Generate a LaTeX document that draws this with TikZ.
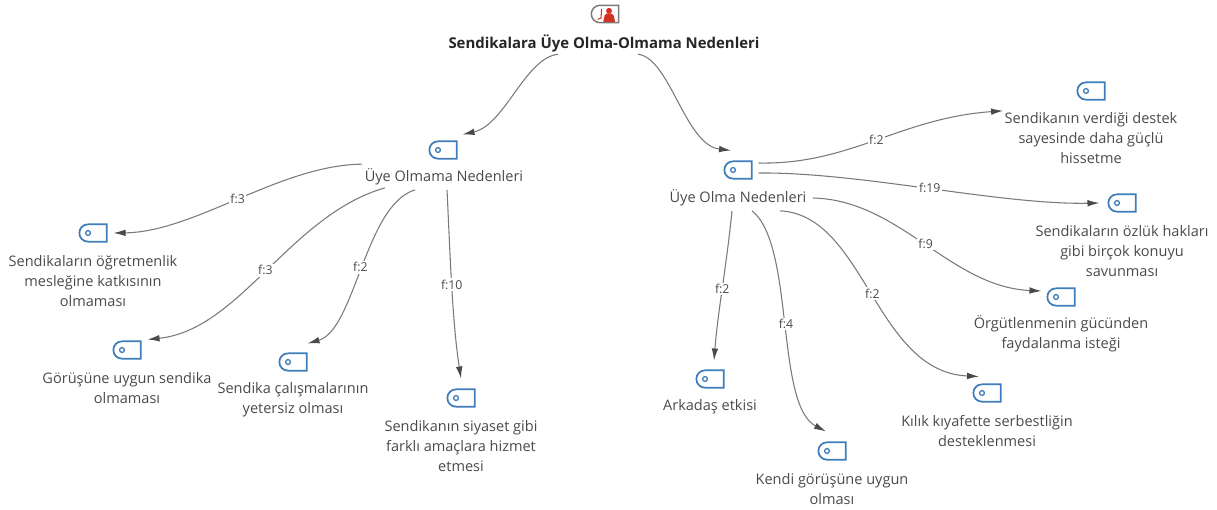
\documentclass[tikz,border=0pt]{standalone}
\usepackage{fontspec}
\setmainfont{Open Sans}
\usetikzlibrary{shapes.misc,arrows.meta}
\definecolor{codeblue}{HTML}{3F7DBA}
\definecolor{inkgray}{HTML}{4A4A4A}
\definecolor{linkgray}{HTML}{7A7A7A}
\definecolor{rootred}{HTML}{D5301F}

\begin{document}
\begin{tikzpicture}
      [
      x=.75pt,y=-.75pt,
      code/.style={rounded rectangle,rounded rectangle right arc=none,draw=codeblue,line width=1.3pt,inner sep=0pt,minimum width=20.5pt,minimum height=13pt,
        path picture={\draw [codeblue,line width=1pt] ([xshift=6.5pt]path picture bounding box.west) circle (1.8pt);}},
      rootcode/.style={rounded rectangle,rounded rectangle right arc=none,draw=linkgray,line width=1.1pt,inner sep=0pt,minimum width=20.5pt,minimum height=13pt,
        path picture={\fill [rootred] ([xshift=3pt,yshift=2.4pt]path picture bounding box.center) circle (2.2pt);
          \fill [rootred,rounded corners=1.5pt] ([xshift=-1.5pt,yshift=-7pt]path picture bounding box.center) -- ([xshift=0pt,yshift=.5pt]path picture bounding box.center) -- ([xshift=6pt,yshift=.5pt]path picture bounding box.center) -- ([xshift=8pt,yshift=-7pt]path picture bounding box.center) -- cycle;
          \draw [rootred,line width=.8pt] ([xshift=-2.5pt,yshift=4pt]path picture bounding box.center) -- ([xshift=-3pt,yshift=-3pt]path picture bounding box.center) -- ([xshift=-5.5pt,yshift=-4pt]path picture bounding box.center);}},
      lbl/.style={align=center,text=inkgray,font=\fontsize{10.9}{15}\selectfont,inner sep=1pt},
      link/.style={draw=linkgray,line width=.8pt,-{Latex[length=9pt,width=5pt,color=inkgray]}},
      freq/.style={midway,fill=white,text=inkgray,font=\fontsize{9.2}{10}\selectfont,inner sep=1.2pt}
      ]
      \useasboundingbox (0,0) rectangle (1217,510);
      % top
      \node (root) at (605,14) [rootcode] {};
      \node (roottext) at (604,43) [lbl,text=black!85,font=\fontsize{11.2}{15}\selectfont\bfseries] {Sendikalara Üye Olma-Olmama Nedenleri};
      % two groups
      \node (no) at (443,150) [code] {};
      \node (notext) at (444,177) [lbl] {Üye Olmama Nedenleri};
      \node (yes) at (738,170) [code] {};
      \node (yestext) at (738,198) [lbl] {Üye Olma Nedenleri};
      % left side
      \node (no1) at (93,233) [code] {};
      \node (no1text) at (93,281) [lbl] {Sendikaların öğretmenlik\\mesleğine katkısının\\olmaması};
      \node (no2) at (127,350) [code] {};
      \node (no2text) at (127,388) [lbl] {Görüşüne uygun sendika\\olmaması};
      \node (no3) at (293,362) [code] {};
      \node (no3text) at (293,400) [lbl] {Sendika çalışmalarının\\yetersiz olması};
      \node (no4) at (461,398) [code] {};
      \node (no4text) at (461,446) [lbl] {Sendikanın siyaset gibi\\farklı amaçlara hizmet\\etmesi};
      % right side
      \node (yes1) at (1091,91) [code] {};
      \node (yes1text) at (1091,138) [lbl] {Sendikanın verdiği destek\\sayesinde daha güçlü\\hissetme};
      \node (yes2) at (1122,203) [code] {};
      \node (yes2text) at (1122,251) [lbl] {Sendikaların özlük hakları\\gibi birçok konuyu\\savunması};
      \node (yes3) at (1061,297) [code] {};
      \node (yes3text) at (1061,334) [lbl] {Örgütlenmenin gücünden\\faydalanma isteği};
      \node (yes4) at (987,393) [code] {};
      \node (yes4text) at (987,431) [lbl] {Kılık kıyafette serbestliğin\\desteklenmesi};
      \node (yes5) at (832,451) [code] {};
      \node (yes5text) at (832,489) [lbl] {Kendi görüşüne uygun\\olması};
      \node (yes6) at (710,379) [code] {};
      \node (yes6text) at (710,407) [lbl] {Arkadaş etkisi};
      % links
      \draw [link] ([shift={(-46,1)}]roottext.south) .. controls (525,58) and (505,125) .. ([shift={(5,-6)}]no.north east);
      \draw [link] ([shift={(34,1)}]roottext.south) .. controls (670,58) and (685,145) .. ([shift={(-2,-10)}]yes.north west);
      \draw [link] ([shift={(-82,-3)}]notext.north) .. controls (280,165) and (195,232) .. ([shift={(6,0)}]no1.east) node [freq] {f:3};
      \draw [link] ([shift={(-59,1)}]notext.south) .. controls (290,215) and (240,330) .. ([shift={(6,-1)}]no2.north east) node [freq] {f:3};
      \draw [link] ([shift={(-29,3)}]notext.south) .. controls (365,205) and (355,330) .. ([shift={(0,-9)}]no3.north east) node [freq] {f:2};
      \draw [link] ([shift={(3,3)}]notext.south) .. controls (450,250) and (452,320) .. ([shift={(0,-10)}]no4.north) node [freq] {f:10};
      \draw [link] ([shift={(6,-7)}]yes.east) .. controls (850,165) and (900,118) .. (yes1text.north west) node [freq] {f:2};
      \draw [link] ([shift={(6,3)}]yes.east) .. controls (860,172) and (1000,205) .. ([shift={(-8,0)}]yes2.west) node [freq] {f:19};
      \draw [link] ([shift={(5,0)}]yestext.east) .. controls (900,200) and (950,287) .. ([shift={(-5,-6)}]yes3.west) node [freq] {f:9};
      \draw [link] ([shift={(42,3)}]yestext.south) .. controls (865,215) and (875,372) .. ([shift={(-3,-7)}]yes4.north west) node [freq] {f:2};
      \draw [link] ([shift={(14,3)}]yestext.south) .. controls (795,245) and (775,405) .. ([shift={(-6,-10)}]yes5.north) node [freq] {f:4};
      \draw [link] ([shift={(-6,3)}]yestext.south) .. controls (726,270) and (718,310) .. ([shift={(4,-9)}]yes6.north) node [freq] {f:2};
    \end{tikzpicture}
\end{document}
